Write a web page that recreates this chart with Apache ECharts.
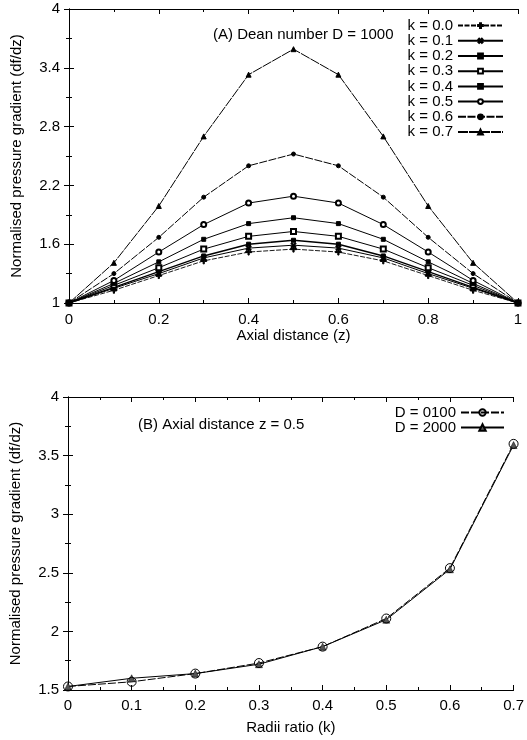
<!DOCTYPE html>
<html>
<head>
<meta charset="utf-8">
<script src="https://cdn.jsdelivr.net/npm/echarts@6/dist/echarts.min.js"></script>
<style>
html,body{margin:0;padding:0;background:#fff;}
#chart{width:527px;height:740px;}
</style>
</head>
<body>
<div id="chart"></div>
<script>
// ---- Data (A): axial distance vs normalised pressure gradient, D = 1000
var zValues = [0, 0.1, 0.2, 0.3, 0.4, 0.5, 0.6, 0.7, 0.8, 0.9, 1];
var kNames = ['k = 0.0', 'k = 0.1', 'k = 0.2', 'k = 0.3', 'k = 0.4', 'k = 0.5', 'k = 0.6', 'k = 0.7'];
var k00 = [1, 1.13, 1.28, 1.43, 1.52, 1.55, 1.52, 1.43, 1.28, 1.13, 1];
var k01 = [1, 1.15, 1.30, 1.46, 1.56, 1.59, 1.56, 1.46, 1.30, 1.15, 1];
var k02 = [1, 1.16, 1.32, 1.48, 1.60, 1.64, 1.60, 1.48, 1.32, 1.16, 1];
var k03 = [1, 1.18, 1.36, 1.55, 1.68, 1.73, 1.68, 1.55, 1.36, 1.18, 1];
var k04 = [1, 1.20, 1.42, 1.65, 1.81, 1.87, 1.81, 1.65, 1.42, 1.20, 1];
var k05 = [1, 1.23, 1.52, 1.80, 2.02, 2.09, 2.02, 1.80, 1.52, 1.23, 1];
var k06 = [1, 1.30, 1.67, 2.08, 2.40, 2.52, 2.40, 2.08, 1.67, 1.30, 1];
var k07 = [1, 1.41, 1.99, 2.70, 3.33, 3.59, 3.33, 2.70, 1.99, 1.41, 1];

// ---- Data (B): radii ratio vs normalised pressure gradient at z = 0.5
var kValues = [0, 0.1, 0.2, 0.3, 0.4, 0.5, 0.6, 0.7];
var d0100 = [1.53, 1.57, 1.64, 1.73, 1.87, 2.11, 2.54, 3.60];
var d2000 = [1.53, 1.60, 1.64, 1.72, 1.87, 2.10, 2.53, 3.59];
var dNames = ['D = 0100', 'D = 2000'];

function pairs(xs, ys) { return xs.map(function (x, i) { return [x, ys[i]]; }); }

var FONT = 'Liberation Sans, Arial, Helvetica, sans-serif';
var PLUS = 'path://M2,0H3V2H5V3H3V5H2V3H0V2H2Z';

var topSeriesData = [k00, k01, k02, k03, k04, k05, k06, k07];
var topSymbols = [PLUS, PLUS, 'rect', 'emptyRect', 'rect', 'emptyCircle', 'circle', 'triangle'];
var topSymbolSize = [6, 6, 4, 5, 4, 5, 4, 5];
var topRotate = [0, 45, 0, 0, 0, 0, 0, 0];
var topLineType = [[5, 1.5], 'solid', 'solid', 'solid', 'solid', 'solid', [8, 1.5], [10, 1]];
var topLineWidth = [0.9, 1, 1.4, 1, 1, 1, 1, 1];

function axisCommon(extra) {
  var base = {
    type: 'value',
    axisLine: { show: true, lineStyle: { color: '#000', width: 1 } },
    axisTick: { show: true, inside: true, length: 5, lineStyle: { color: '#000', width: 1 } },
    minorTick: { show: true, splitNumber: 2, length: 3, lineStyle: { color: '#000', width: 1 } },
    splitLine: { show: false },
    axisLabel: { color: '#000', fontFamily: FONT, fontSize: 15 },
    nameTextStyle: { color: '#000', fontFamily: FONT, fontSize: 15 }
  };
  for (var k in extra) base[k] = extra[k];
  return base;
}

var series = [];
topSeriesData.forEach(function (arr, i) {
  series.push({
    name: kNames[i],
    type: 'line',
    xAxisIndex: 0, yAxisIndex: 0,
    data: pairs(zValues, arr),
    symbol: topSymbols[i],
    symbolSize: topSymbolSize[i],
    symbolRotate: topRotate[i],
    showAllSymbol: true,
    lineStyle: { color: '#000', width: topLineWidth[i], type: topLineType[i] },
    itemStyle: { color: '#000', borderColor: '#000', borderWidth: 1 },
    emphasis: { disabled: true },
    animation: false
  });
});

series.push({
  name: dNames[1],
  type: 'line',
  xAxisIndex: 2, yAxisIndex: 2,
  data: pairs(kValues, d2000),
  symbol: 'triangle',
  symbolSize: 7,
  lineStyle: { color: '#000', width: 1 },
  itemStyle: { color: '#555', borderColor: '#000', borderWidth: 0.5 },
  emphasis: { disabled: true },
  animation: false
});
series.push({
  name: dNames[0],
  type: 'line',
  xAxisIndex: 2, yAxisIndex: 2,
  data: pairs(kValues, d0100),
  symbol: 'circle',
  symbolSize: 9,
  lineStyle: { color: '#000', width: 1, type: [8, 2] },
  itemStyle: { color: 'rgba(255,255,255,0)', borderColor: '#000', borderWidth: 1 },
  emphasis: { disabled: true },
  animation: false
});

var option = {
  backgroundColor: '#fff',
  animation: false,
  title: [
    { text: '(A) Dean number D = 1000', left: 208, top: 22,
      textStyle: { fontFamily: FONT, fontSize: 15, fontWeight: 'normal', color: '#000' } },
    { text: '(B) Axial distance z = 0.5', left: 133, top: 412,
      textStyle: { fontFamily: FONT, fontSize: 15, fontWeight: 'normal', color: '#000' } }
  ],
  legend: [
    { data: kNames, orient: 'vertical', align: 'right', right: 18, top: 13,
      itemWidth: 45, itemHeight: 6, itemGap: 0, selectedMode: false,
      textStyle: { fontFamily: FONT, fontSize: 15, color: '#000', lineHeight: 15.2 } },
    { data: dNames, orient: 'vertical', align: 'right', right: 17, top: 400,
      itemWidth: 43, itemHeight: 8, itemGap: 0, selectedMode: false,
      textStyle: { fontFamily: FONT, fontSize: 15, color: '#000', lineHeight: 15 } }
  ],
  grid: [
    { left: 69, right: 9, top: 9, height: 294 },
    { left: 67, right: 10, top: 397, height: 293 }
  ],
  xAxis: [
    axisCommon({ gridIndex: 0, position: 'bottom', min: 0, max: 1, interval: 0.2,
      name: 'Axial distance (z)', nameLocation: 'middle', nameGap: 23,
      axisLabel: { color: '#000', fontFamily: FONT, fontSize: 15, margin: 9 } }),
    axisCommon({ gridIndex: 0, position: 'top', min: 0, max: 1, interval: 0.2,
      axisLabel: { show: false } }),
    axisCommon({ gridIndex: 1, position: 'bottom', min: 0, max: 0.7, interval: 0.1,
      name: 'Radii ratio (k)', nameLocation: 'middle', nameGap: 30,
      axisLabel: { color: '#000', fontFamily: FONT, fontSize: 15, margin: 8 } }),
    axisCommon({ gridIndex: 1, position: 'top', min: 0, max: 0.7, interval: 0.1,
      axisLabel: { show: false } })
  ],
  yAxis: [
    axisCommon({ gridIndex: 0, position: 'left', min: 1, max: 4, interval: 0.6,
      name: 'Normalised pressure gradient (df/dz)', nameLocation: 'middle', nameGap: 45,
      axisLabel: { color: '#000', fontFamily: FONT, fontSize: 15, margin: 9 } }),
    axisCommon({ gridIndex: 0, position: 'right', min: 1, max: 4, interval: 0.6,
      axisLabel: { show: false } }),
    axisCommon({ gridIndex: 1, position: 'left', min: 1.5, max: 4, interval: 0.5,
      name: 'Normalised pressure gradient (df/dz)', nameLocation: 'middle', nameGap: 45,
      axisLabel: { color: '#000', fontFamily: FONT, fontSize: 15, margin: 9 } }),
    axisCommon({ gridIndex: 1, position: 'right', min: 1.5, max: 4, interval: 0.5,
      axisLabel: { show: false } })
  ],
  series: series
};

var chart = echarts.init(document.getElementById('chart'), null, { renderer: 'canvas' });
chart.setOption(option);
</script>
</body>
</html>
